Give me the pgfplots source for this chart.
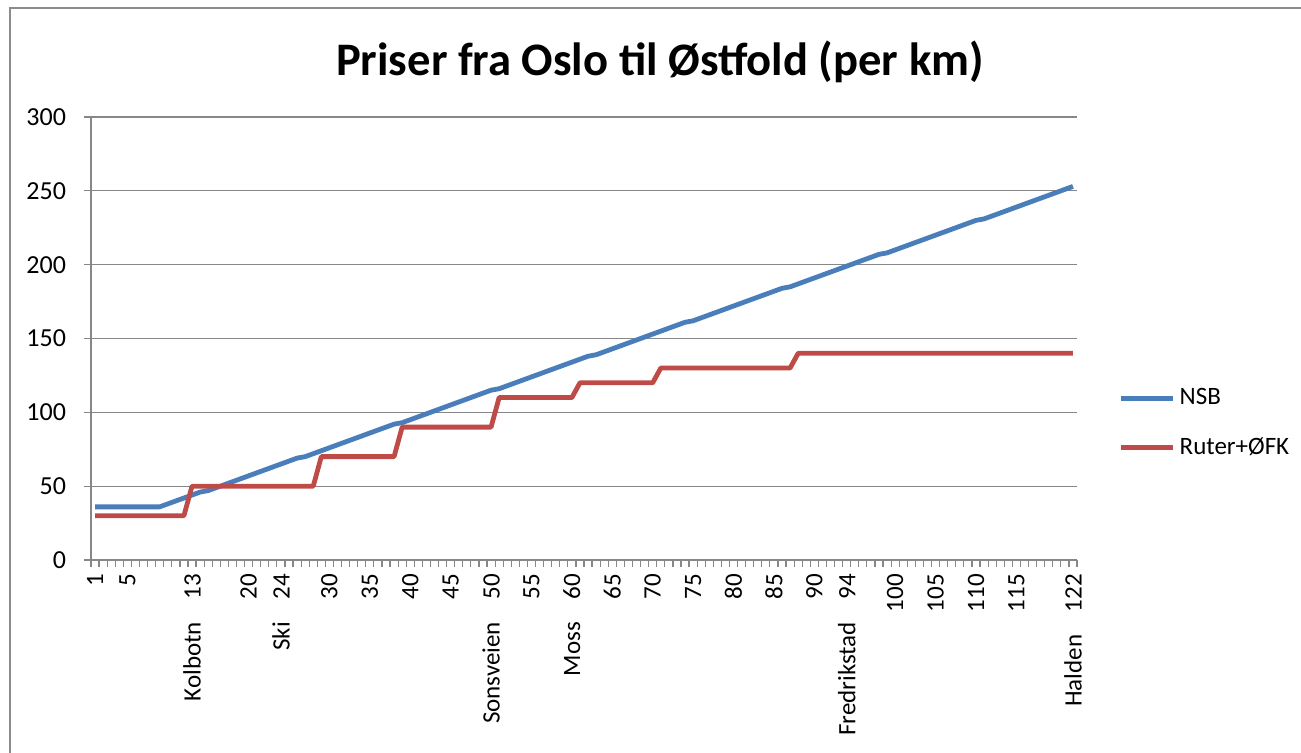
\documentclass[border=0pt]{standalone}
\usepackage{pgfplots}
\pgfplotsset{compat=1.18}
\usepackage{fontspec}
\setmainfont{Carlito}
\definecolor{nsb}{HTML}{4A7EBB}
\definecolor{ruter}{HTML}{BE4B48}
\definecolor{gridc}{HTML}{878787}
\definecolor{framec}{HTML}{8C8C8C}

\pgfplotstableread{
x y
1 36
2 36
3 36
4 36
5 36
6 36
7 36
8 36
9 36
10 38
11 40
12 42
13 44
14 46
15 47
16 49
17 51
18 53
19 55
20 57
21 59
22 61
23 63
24 65
25 67
26 69
27 70
28 72
29 74
30 76
31 78
32 80
33 82
34 84
35 86
36 88
37 90
38 92
39 93
40 95
41 97
42 99
43 101
44 103
45 105
46 107
47 109
48 111
49 113
50 115
51 116
52 118
53 120
54 122
55 124
56 126
57 128
58 130
59 132
60 134
61 136
62 138
63 139
64 141
65 143
66 145
67 147
68 149
69 151
70 153
71 155
72 157
73 159
74 161
75 162
76 164
77 166
78 168
79 170
80 172
81 174
82 176
83 178
84 180
85 182
86 184
87 185
88 187
89 189
90 191
91 193
92 195
93 197
94 199
95 201
96 203
97 205
98 207
99 208
100 210
101 212
102 214
103 216
104 218
105 220
106 222
107 224
108 226
109 228
110 230
111 231
112 233
113 235
114 237
115 239
116 241
117 243
118 245
119 247
120 249
121 251
122 253
}\nsbdata

\pgfplotstableread{
x y
1 30
12 30
13 50
28 50
29 70
38 70
39 90
50 90
51 110
60 110
61 120
70 120
71 130
87 130
88 140
122 140
}\ruterdata

\begin{document}
\begin{tikzpicture}
\useasboundingbox (-45.5pt,-96pt) rectangle (605pt,280pt);
\draw[framec, line width=1.2pt] (-40.5pt,-100pt) -- (-40.5pt,276pt) -- (610pt,276pt);
\node[font=\fontsize{23.3}{27}\selectfont\bfseries] at (284.5pt,249pt) {Priser fra Oslo til Østfold (per km)};
\begin{axis}[
  at={(0,0)}, anchor=south west,
  scale only axis, width=493pt, height=221.5pt,
  xmin=0.5, xmax=122.5, ymin=0, ymax=300,
  axis x line*=bottom, axis y line*=left,
  axis line style={gridc, line width=0.6pt},
  ytick={0,50,...,300},
  ymajorgrids, grid style={gridc, line width=0.6pt},
  tick align=outside,
  major tick length=3.5pt, minor tick length=3.5pt,
  tick style={gridc, line width=0.6pt},
  xtick={1,5,13,20,24,30,35,40,45,50,55,60,65,70,75,80,85,90,94,100,105,110,115,122},
  xticklabels={1,5,Kolbotn\hspace{0.9em}13,20,Ski\hspace{0.9em}24,30,35,40,45,Sonsveien\hspace{0.9em}50,55,Moss\hspace{0.9em}60,65,70,75,80,85,90,Fredrikstad\hspace{0.9em}94,100,105,110,115,Halden\hspace{0.9em}122},
  major x tick style={draw=none},
  minor xtick={0.5,1.5,...,122.5},
  xticklabel style={rotate=90, anchor=east, font=\fontsize{12.5}{15}\selectfont},
  yticklabel style={font=\fontsize{13}{15}\selectfont, xshift=-5.5pt},
  /pgf/number format/assume math mode=true,
  legend style={at={(1.036,0.309)}, anchor=west, draw=none, fill=none,
    font=\fontsize{12.5}{15}\selectfont, row sep=11pt},
  legend cell align=left,
  legend image code/.code={\draw[#1, line width=2.4pt] (0pt,0pt) -- (26pt,0pt);},
]
\addplot[nsb, line width=2.4pt, line join=round, mark=none] table {\nsbdata};
\addlegendentry{NSB}
\addplot[ruter, line width=2.4pt, line join=round, mark=none] table {\ruterdata};
\addlegendentry{Ruter+ØFK}
\end{axis}
\end{tikzpicture}
\end{document}
